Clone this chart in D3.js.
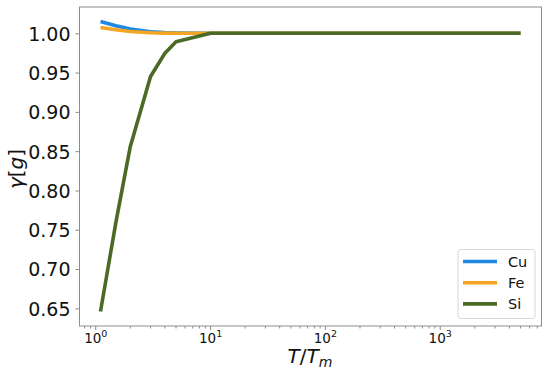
<!DOCTYPE html>
<html>
<head>
<meta charset="utf-8">
<script src="https://cdn.jsdelivr.net/npm/d3@7"></script>
<style>
  body { margin: 0; background: #fff; }
  svg { font-family: "DejaVu Sans", sans-serif; }
</style>
</head>
<body>
<svg width="550" height="373"></svg>
<script>
// T/Tm sample points and gamma[g] values per element
const temps = [1.1, 1.5, 2, 3, 4, 5, 10, 20, 50, 100, 200, 500, 1000, 2000, 5000];
const cu = [1.0150, 1.0095, 1.0055, 1.0020, 1.0008, 1.0004, 1.0, 1.0, 1.0, 1.0, 1.0, 1.0, 1.0, 1.0, 1.0];
const fe = [1.0073, 1.0045, 1.0022, 1.0006, 1.0002, 1.0001, 1.0, 1.0, 1.0, 1.0, 1.0, 1.0, 1.0, 1.0, 1.0];
const si = [0.646, 0.760, 0.856, 0.945, 0.9746, 0.9893, 1.0, 1.0, 1.0, 1.0, 1.0, 1.0, 1.0, 1.0, 1.0];
const yTicks = [0.65, 0.70, 0.75, 0.80, 0.85, 0.90, 0.95, 1.00];
const xTicks = [1, 10, 100, 1000];

const series = [
  { name: 'Cu', values: cu, color: '#1e88e5' },
  { name: 'Fe', values: fe, color: '#f4a521' },
  { name: 'Si', values: si, color: '#4b6a26' },
];

const plotL = 79.5, plotR = 541.5, plotT = 7, plotB = 326;
const svg = d3.select('svg');

// matplotlib-like 5% margins (log x)
const lx = d3.extent(temps).map(Math.log10);
const padX = (lx[1] - lx[0]) * 0.05;
const x = d3.scaleLog()
  .domain([Math.pow(10, lx[0] - padX), Math.pow(10, lx[1] + padX)])
  .range([plotL, plotR]);

const allY = cu.concat(fe, si);
const ey = d3.extent(allY);
const padY = (ey[1] - ey[0]) * 0.05;
const y = d3.scaleLinear()
  .domain([ey[0] - padY, ey[1] + padY])
  .range([plotB, plotT]);

// lines
const line = d3.line()
  .x((d, i) => x(temps[i]))
  .y(d => y(d));

svg.append('g').selectAll('path')
  .data(series)
  .enter()
  .append('path')
  .attr('d', d => line(d.values))
  .attr('fill', 'none')
  .attr('stroke', d => d.color)
  .attr('stroke-width', 3.6)
  .attr('stroke-linejoin', 'round');

// frame
svg.append('rect')
  .attr('x', plotL).attr('y', plotT)
  .attr('width', plotR - plotL).attr('height', plotB - plotT)
  .attr('fill', 'none')
  .attr('stroke', '#8c8c8c')
  .attr('stroke-width', 1);

// y axis
const yAxis = svg.append('g')
  .attr('transform', `translate(${plotL},0)`)
  .call(d3.axisLeft(y).tickValues(yTicks).tickFormat(d3.format('.2f')).tickSize(4).tickPadding(5));
yAxis.select('.domain').remove();
yAxis.selectAll('line').attr('stroke', '#8c8c8c');
yAxis.selectAll('text')
  .attr('font-size', 19)
  .attr('fill', '#111')
  .attr('dy', '0.36em')
  .style('font-family', '"DejaVu Sans", sans-serif');

// x axis minor ticks
const minor = [];
for (let e = -1; e < 4; e++) {
  for (let m = 2; m < 10; m++) {
    const v = m * Math.pow(10, e);
    if (v >= x.domain()[0] && v <= x.domain()[1]) minor.push(v);
  }
}
svg.append('g').selectAll('line')
  .data(minor)
  .enter()
  .append('line')
  .attr('x1', d => x(d)).attr('x2', d => x(d))
  .attr('y1', plotB).attr('y2', plotB + 2.5)
  .attr('stroke', '#8c8c8c');

// x axis major ticks
const xg = svg.append('g');
xg.selectAll('line')
  .data(xTicks)
  .enter()
  .append('line')
  .attr('x1', d => x(d)).attr('x2', d => x(d))
  .attr('y1', plotB).attr('y2', plotB + 4)
  .attr('stroke', '#8c8c8c');

const xl = xg.selectAll('text')
  .data(xTicks)
  .enter()
  .append('text')
  .attr('x', d => x(d))
  .attr('y', 343)
  .attr('text-anchor', 'middle')
  .attr('font-size', 13.5)
  .attr('fill', '#111');
xl.append('tspan').text('10');
xl.append('tspan')
  .attr('dy', -6)
  .attr('font-size', 9.5)
  .text(d => String(Math.round(Math.log10(d))));

// axis titles
const xt = svg.append('text')
  .attr('x', 310)
  .attr('y', 363)
  .attr('text-anchor', 'middle')
  .attr('font-size', 20)
  .attr('fill', '#111');
xt.append('tspan').attr('font-style', 'italic').text('T');
xt.append('tspan').text('/');
xt.append('tspan').attr('font-style', 'italic').text('T');
xt.append('tspan').attr('font-style', 'italic').attr('dy', 4).attr('font-size', 14).text('m');

const yt = svg.append('text')
  .attr('transform', 'translate(23,169) rotate(-90)')
  .attr('text-anchor', 'middle')
  .attr('font-size', 20)
  .attr('fill', '#111');
yt.append('tspan').attr('font-style', 'italic').text('γ');
yt.append('tspan').text('[');
yt.append('tspan').attr('font-style', 'italic').text('g');
yt.append('tspan').text(']');

// legend
const lg = svg.append('g');
lg.append('rect')
  .attr('x', 458).attr('y', 249.5)
  .attr('width', 77).attr('height', 69)
  .attr('rx', 3)
  .attr('fill', '#fff')
  .attr('fill-opacity', 0.8)
  .attr('stroke', '#d8d8d8');
const items = lg.selectAll('g.item')
  .data(series)
  .enter()
  .append('g')
  .attr('class', 'item')
  .attr('transform', (d, i) => `translate(0,${261.5 + i * 21.2})`);
items.append('line')
  .attr('x1', 463).attr('x2', 497)
  .attr('stroke', d => d.color)
  .attr('stroke-width', 3.6);
items.append('text')
  .attr('x', 508)
  .attr('dy', '0.36em')
  .attr('font-size', 14.5)
  .attr('fill', '#111')
  .text(d => d.name);
</script>
</body>
</html>
